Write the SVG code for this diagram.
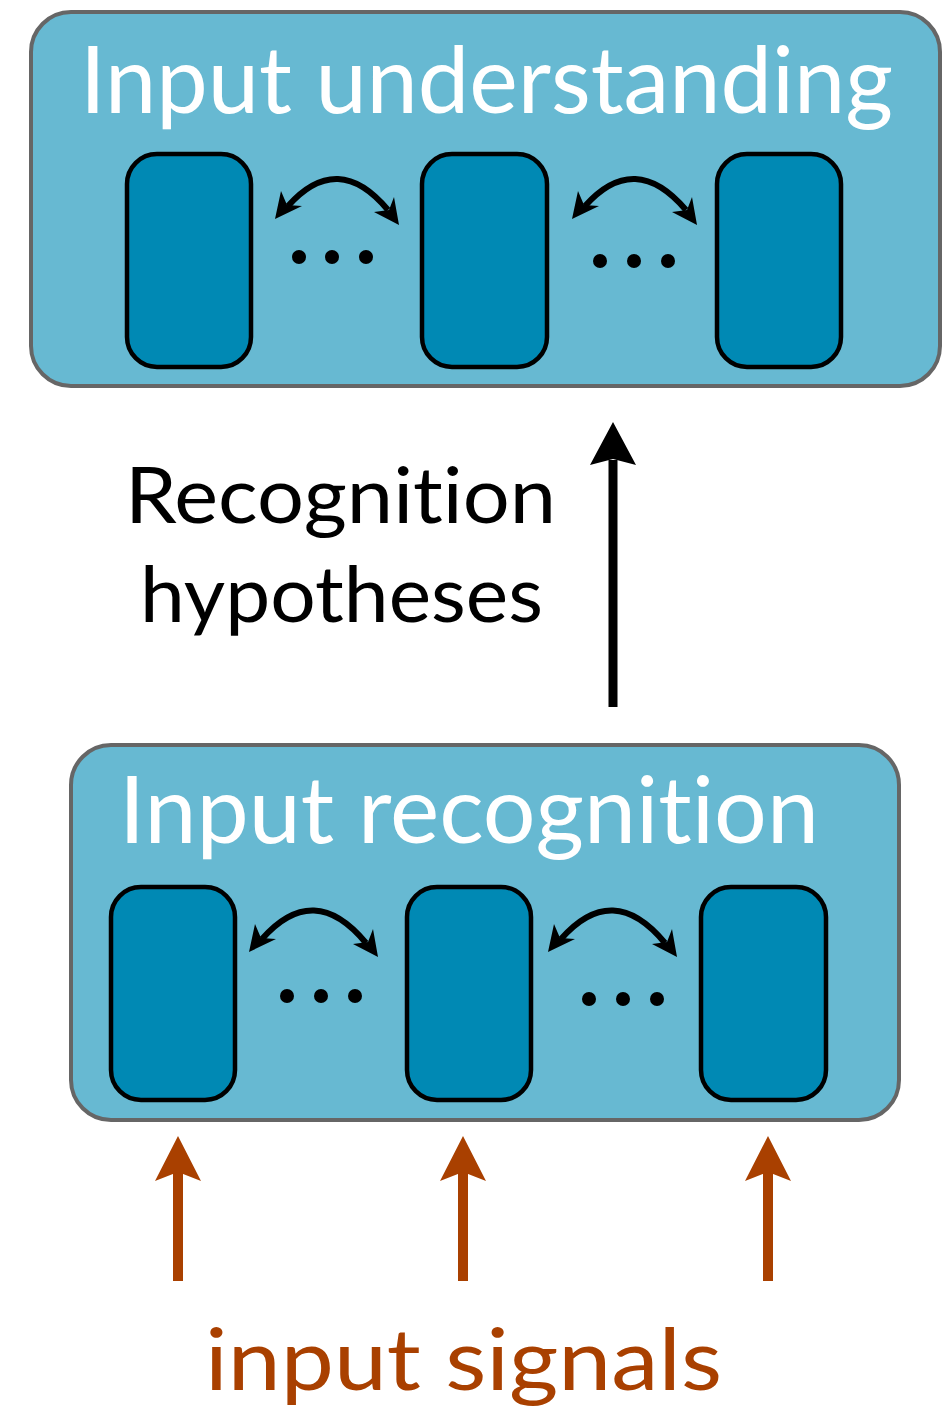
<svg xmlns="http://www.w3.org/2000/svg" width="946" height="1412" viewBox="0 0 946 1412">
<style>
.box{fill:#67b9d2;stroke:#666;stroke-width:4}
.mod{fill:#0089b4;stroke:#000;stroke-width:4.5}
text{font-variant-ligatures:none;font-feature-settings:"liga" 0,"clig" 0}
.title{font-family:Lato,"Open Sans",sans-serif;fill:#fff;font-size:94px}
.lbl{font-family:Lato,"Open Sans",sans-serif;fill:#000;font-size:78px}
.sig{font-family:Lato,"Open Sans",sans-serif;fill:#a94000;font-size:86px}
.curve{fill:none;stroke:#000;stroke-width:6}
.dot{fill:#000}
</style>
<g id="input-understanding">
<rect class="box" x="31" y="12" width="909" height="374" rx="40"/>
<text class="title" x="80" y="113" textLength="813" lengthAdjust="spacingAndGlyphs">Input understanding</text>
<rect class="mod" x="127" y="154" width="124" height="213" rx="30"/>
<rect class="mod" x="422" y="154" width="125" height="213" rx="30"/>
<rect class="mod" x="717" y="154" width="124" height="213" rx="30"/>
<circle class="dot" cx="299" cy="257" r="7"/><circle class="dot" cx="332" cy="257" r="7"/><circle class="dot" cx="366" cy="257" r="7"/>
<circle class="dot" cx="600" cy="261" r="7"/><circle class="dot" cx="634" cy="261" r="7"/><circle class="dot" cx="668" cy="261" r="7"/>
</g>
<g id="input-recognition">
<rect class="box" x="71" y="745" width="828" height="375" rx="40"/>
<text class="title" x="119" y="843" textLength="700" lengthAdjust="spacingAndGlyphs">Input recognition</text>
<rect class="mod" x="111" y="887" width="124" height="213" rx="30"/>
<rect class="mod" x="407" y="887" width="124" height="213" rx="30"/>
<rect class="mod" x="701" y="887" width="125" height="213" rx="30"/>
<circle class="dot" cx="287" cy="996" r="7"/><circle class="dot" cx="321" cy="996" r="7"/><circle class="dot" cx="355" cy="996" r="7"/>
<circle class="dot" cx="589" cy="999" r="7"/><circle class="dot" cx="623" cy="999" r="7"/><circle class="dot" cx="657" cy="999" r="7"/>
</g>
<g id="labels">
<text class="lbl" x="125" y="523" textLength="431" lengthAdjust="spacingAndGlyphs">Recognition</text>
<text class="lbl" x="140" y="622" textLength="403" lengthAdjust="spacingAndGlyphs">hypotheses</text>
<text class="sig" x="205" y="1390" textLength="517" lengthAdjust="spacingAndGlyphs">input signals</text>
</g>
<g id="connectors">
<path class="curve" d="M288,206 Q338,150 388,210"/>
<path d="M275,219 L281,191 L287,205 L302,206 Z" fill="#000"/>
<path d="M399,225 L394,197 L389,210 L374,212 Z" fill="#000"/>
<path class="curve" d="M585,206 Q635,150 686,210"/>
<path d="M572,219 L578,191 L584,205 L599,206 Z" fill="#000"/>
<path d="M697,225 L692,197 L687,210 L672,212 Z" fill="#000"/>
<path class="curve" d="M262,939 Q314,880 366,943"/>
<path d="M249,952 L255,924 L261,938 L276,939 Z" fill="#000"/>
<path d="M378,957 L373,929 L368,942 L353,944 Z" fill="#000"/>
<path class="curve" d="M561,939 Q613,880 665,943"/>
<path d="M548,952 L554,924 L560,938 L575,939 Z" fill="#000"/>
<path d="M677,957 L672,929 L667,942 L652,944 Z" fill="#000"/>
<line x1="613" y1="707" x2="613" y2="460" stroke="#000" stroke-width="9"/>
<path d="M613,422 L636,465 L613,459 L590,465 Z" fill="#000"/>
<g fill="#a94000" stroke="#a94000">
<line x1="178" y1="1281" x2="178" y2="1172" stroke-width="10"/>
<path d="M178,1136 L201,1181 L178,1172 L155,1181 Z" stroke="none"/>
<line x1="463" y1="1281" x2="463" y2="1172" stroke-width="10"/>
<path d="M463,1136 L486,1181 L463,1172 L440,1181 Z" stroke="none"/>
<line x1="768" y1="1281" x2="768" y2="1172" stroke-width="10"/>
<path d="M768,1136 L791,1181 L768,1172 L745,1181 Z" stroke="none"/>
</g>
</g>
</svg>
